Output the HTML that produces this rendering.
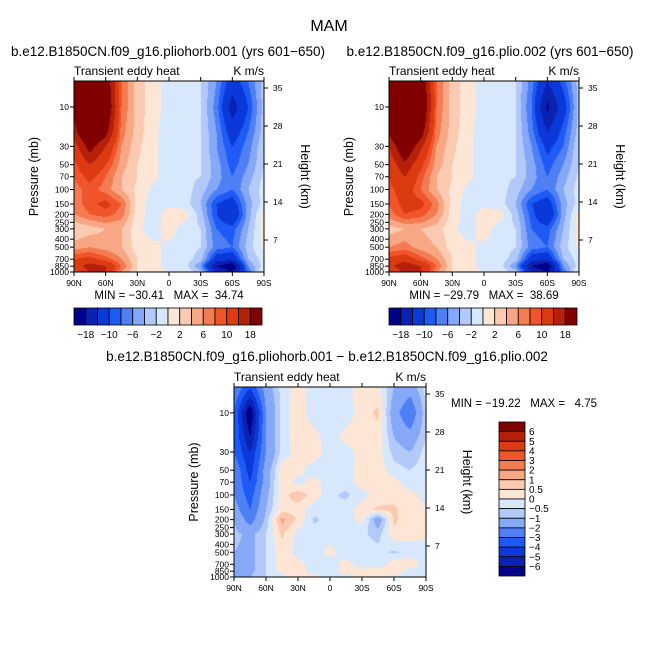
<!DOCTYPE html>
<html><head><meta charset="utf-8">
<style>
html,body{margin:0;padding:0;background:#fff;}
#wrap{position:relative;width:659px;height:660px;overflow:hidden;font-family:"Liberation Sans",sans-serif;}
canvas{position:absolute;}
svg{position:absolute;left:0;top:0;}
text{white-space:pre;}
</style></head>
<body>
<div id="wrap">
<canvas id="c1" width="190" height="191" style="left:74px;top:81px"></canvas>
<canvas id="c2" width="190" height="191" style="left:389px;top:81px"></canvas>
<canvas id="c3" width="192" height="190" style="left:234px;top:387px"></canvas>
<svg id="svg" width="659" height="660"></svg>
</div>
<script>
const lats = [90,75,60,45,30,15,0,-15,-30,-45,-60,-75,-90];
const plevs = [5,10,20,30,50,70,100,150,200,300,500,700,850,1000];
const field1 = [
[20,26,22,8,3,1,-1,-1,-2,-6,-12,-8,-3],
[20,28,24,8,3,1,-1,-1,-2,-7,-16,-10,-3],
[16,26,20,7,3,0.5,-1,-1,-2,-6,-12,-8,-3],
[12,20,14,6,2.5,0.5,-1,-1,-2,-6,-10,-7,-2],
[9,14,10,5,2,0.5,-1,-1,-2,-5,-9,-6,-2],
[8,11,8,4,2,0.5,-1,-1.5,-2,-5,-8,-5,-1.5],
[7,9,7,4,1.5,-0.5,-1,-1,-3,-6,-8,-4,-1],
[7,9,11,8,1,-1,-0.5,-1,-4,-10,-12,-5,-1],
[6,8,9,7,1,-1,1,1,-3,-10,-14,-5,1],
[2,3,4,4,0.5,-1,1,-1,-2,-8,-9,-4,1],
[5,6,5,4,1,0.5,-0.5,-1,-2,-7,-8,-3,0.5],
[10,11,9,6,2,0.5,-0.5,-1,-3,-12,-13,-4,-1],
[12,16,14,8,2,0.5,-0.5,-1,-6,-18,-22,-6,-1],
[8,14,14,6,2,0.5,0,-0.5,-3,-14,-18,-8,1]];
const field2 = [
[22,28,23,8,3,1,-1,-1,-2,-7,-14,-9,-3],
[24,30,25,8,3,1,-1,-1,-2,-8,-19,-12,-3],
[19,28,21,7,3,0.5,-1,-1,-2,-7,-14,-9,-3],
[14,23,15,6,2.5,0.5,-1,-1,-2,-6,-11,-8,-2],
[11,17,11,5,2,0.5,-1,-1,-2,-5,-9,-6,-2],
[10,14,9,4,2,0.5,-1,-1.5,-2,-5,-8,-5,-1.5],
[9,12,8,4,1.5,-0.5,-1,-1,-3,-6,-8,-4,-1],
[8,11,11,7,1,-1,-0.5,-1,-4,-10,-12,-5,-1],
[7,10,9,6,1,-1,1,1,-3,-9,-14,-5,1],
[3,4,4,3,0.5,-1,1,-1,-2,-8,-9,-4,1],
[6,7,5,4,1,0.5,-0.5,-1,-2,-7,-8,-3,0.5],
[11,12,9,6,2,0.5,-0.5,-1,-3,-12,-13,-4,-1],
[13,17,14,8,2,0.5,-0.5,-1,-6,-18,-22,-6,-1],
[9,15,14,6,2,0.5,0,-0.5,-3,-14,-18,-8,1]];
const field3 = [
[-2,-4,-1.5,-0.3,0.3,-0.3,-0.3,-0.2,0.3,0.2,-1,-1.5,-0.3],
[-3,-7,-2,-0.3,0.3,-0.3,-0.3,-0.3,0.3,0.6,-1.5,-3,-0.5],
[-3,-6,-2,-0.3,0.3,0.2,-0.3,0.2,0.3,0.3,-1,-1.5,-0.5],
[-3,-5,-2,-0.3,0.2,0.3,-0.3,-0.3,0.3,0.3,-0.7,-1,-0.3],
[-2,-4.5,-1.5,0.3,0.2,-0.3,-0.3,-0.3,0.3,0.3,-0.3,-0.5,-0.2],
[-2,-4,-1.5,0.4,-0.2,0.2,-0.3,-0.3,0.3,0.3,0.2,-0.3,-0.2],
[-2,-3.5,-1.2,0.3,0.8,0.3,-0.4,-0.6,-0.2,0.2,0.3,0.2,-0.2],
[-1.5,-3,-1,0.3,0.3,-0.3,-0.5,-0.3,0.3,0.6,0.6,0.2,0.1],
[-1,-2.5,-0.8,1.2,0.4,-0.6,-0.3,-0.3,0.2,-1.5,0.6,0.2,0.1],
[-0.8,-1.2,-0.5,0.6,-0.2,-0.3,-0.3,-0.3,-0.4,-0.7,0.4,0.2,0.1],
[-1,-1.2,-0.5,0.3,-0.2,-0.3,0.2,-0.3,-0.3,-0.3,-0.6,-0.3,-0.2],
[-1,-1.2,-0.5,0.3,0.2,-0.3,-0.3,0.2,-0.3,-0.3,0.3,0.3,-0.2],
[-1,-1.2,-0.5,0.2,0.2,-0.2,-0.2,0.2,0.2,0.3,0.4,-0.2,-0.2],
[-1,-1,-0.5,-0.2,0.2,0.2,-0.2,-0.2,0.2,0.2,-0.2,-0.2,-0.2]];
const levelsTop = [-18,-14,-10,-8,-6,-4,-2,0,2,4,6,8,10,14,18];
const levelsDiff = [-6,-5,-4,-3,-2,-1,-0.5,0,0.5,1,2,3,4,5,6];
const colors = ["#00008b","#0a22b0","#0b38d8","#1e5af5","#4f7ff5","#85a8f7","#b3c9f9","#d8e8fc","#fde6d6","#fbcab0","#f8a784","#f47c52","#f0542a","#dc3a10","#b4200a","#800000"];
const pTicks = [10,30,50,70,100,150,200,250,300,400,500,700,850,1000];
const zTicks = [35,28,21,14,7];
const latTicks = ["90N","60N","30N","0","30S","60S","90S"];
const topLabels = ["-18","-10","-6","-2","2","6","10","18"];
const diffLabels = ["6","5","4","3","2","1","0.5","0","-0.5","-1","-2","-3","-4","-5","-6"];

const PTOP = Math.pow(10, 1 - 26/82.5);
const lpT = Math.log10(PTOP), lpB = 3;
function yOfP(p, y0, h){ return y0 + h*(Math.log10(p)-lpT)/(lpB-lpT); }
function colorOf(v, lev){ let i=0; while(i<lev.length && v>=lev[i]) i++; return colors[i]; }
function hex(c){ return [parseInt(c.substr(1,2),16),parseInt(c.substr(3,2),16),parseInt(c.substr(5,2),16)]; }

function drawField(id, field, lev){
  const cv=document.getElementById(id), ctx=cv.getContext('2d');
  const W=cv.width,H=cv.height, img=ctx.createImageData(W,H);
  const lps = plevs.map(p=>Math.log10(p));
  for(let py=0;py<H;py++){
    const lp = lpT + (py+0.5)/H*(lpB-lpT);
    let r=0; while(r<lps.length-2 && lp>lps[r+1]) r++;
    let tr=(lp-lps[r])/(lps[r+1]-lps[r]); tr=Math.max(0,Math.min(1,tr));
    for(let px=0;px<W;px++){
      const lat = 90 - (px+0.5)/W*180;
      let fc=(90-lat)/15; let c=Math.min(11,Math.floor(fc)); let tc=fc-c;
      const v=(field[r][c]*(1-tc)+field[r][c+1]*tc)*(1-tr)+(field[r+1][c]*(1-tc)+field[r+1][c+1]*tc)*tr;
      const rgb=hex(colorOf(v,lev)); const k=(py*W+px)*4;
      img.data[k]=rgb[0];img.data[k+1]=rgb[1];img.data[k+2]=rgb[2];img.data[k+3]=255;
    }
  }
  ctx.putImageData(img,0,0);
}
drawField('c1',field1,levelsTop);
drawField('c2',field2,levelsTop);
drawField('c3',field3,levelsDiff);

const svg=document.getElementById('svg');
const NS="http://www.w3.org/2000/svg";
function el(tag, attrs, parent){ const e=document.createElementNS(NS,tag); for(const k in attrs) e.setAttribute(k,attrs[k]); (parent||svg).appendChild(e); return e; }
function txt(s,x,y,size,anchor,parent){ const t=el('text',{x:x,y:y,'font-size':size,'text-anchor':anchor||'start',fill:'#000'},parent); t.textContent=s; return t; }

function axes(x0,y0,w,h,name){
  const g=el('g',{});
  
  
  el('rect',{x:x0,y:y0,width:w,height:h,fill:'none',stroke:'#000','stroke-width':1},g);
  pTicks.forEach(p=>{
    const y=yOfP(p,y0,h);
    el('line',{x1:x0-4,y1:y,x2:x0,y2:y,stroke:'#000'},g);
    const t=txt(String(p),x0-5,y+3,8.5,'end',g);
    
    
  });
  zTicks.forEach(z=>{
    const y=y0+7+(35-z)/28*152;
    el('line',{x1:x0+w,y1:y,x2:x0+w+4,y2:y,stroke:'#000'},g);
    const t=txt(String(z),x0+w+9,y+3,8.5,'start',g);
    
    
  });
  latTicks.forEach((s,i)=>{
    const x=x0+i*w/6;
    el('line',{x1:x,y1:y0+h,x2:x,y2:y0+h+4,stroke:'#000'},g);
    el('line',{x1:x,y1:y0,x2:x,y2:y0-4,stroke:'#000'},g);
    const t=txt(s,x,y0+h+14,8.5,'middle',g);
    
    
  });
  const yl=txt('Pressure (mb)',0,0,12.5,'middle',g);
  yl.setAttribute('transform','translate('+(x0-36)+','+(y0+h/2)+') rotate(-90)');
  
  
  const hl=txt('Height (km)',0,0,12.5,'middle',g);
  hl.setAttribute('transform','translate('+(x0+w+37)+','+(y0+h/2)+') rotate(90)');
  
  
  const lt=txt('Transient eddy heat',x0,y0-6,12,'start',g);
  
  
  const ut=txt('K m/s',x0+w,y0-6,12,'end',g);
  
  
}
axes(74,81,190,191,'panel-pliohorb-axes');
axes(389,81,190,191,'panel-plio-axes');
axes(234,387,192,190,'panel-difference-axes');

function hbar(x0,y0,w,h,name){
  const g=el('g',{});
  
  
  const bw=w/colors.length;
  colors.forEach((c,i)=>{
    const r=el('rect',{x:x0+i*bw,y:y0,width:bw,height:h,fill:c,stroke:'#000','stroke-width':0.8},g);
    
    
  });
  topLabels.forEach((s,i)=>{
    const t=txt(s.replace('-','\u2212'),x0+(2*i+1)*bw,y0+h+13,10,'middle',g);
    
    
  });
}
hbar(74,308,188,17,'colorbar-pliohorb');
hbar(389,308,188,17,'colorbar-plio');

(function(){
  const g=el('g',{});
  
  
  const x0=499,y0=422,w=26,h=154,bh=h/colors.length;
  colors.slice().reverse().forEach((c,i)=>{
    const r=el('rect',{x:x0,y:y0+i*bh,width:w,height:bh,fill:c,stroke:'#000','stroke-width':0.8},g);
    
    
  });
  diffLabels.forEach((s,i)=>{
    const t=txt(s.replace('-','\u2212'),x0+w+4,y0+(i+1)*bh+3.5,10,'start',g);
    
    
  });
})();

const title=txt('MAM',329,31,16,'middle');


const s1=txt('b.e12.B1850CN.f09_g16.pliohorb.001 (yrs 601\u2212650)',168,56,13.5,'middle');


const s2=txt('b.e12.B1850CN.f09_g16.plio.002 (yrs 601\u2212650)',490,56,13.5,'middle');


const s3=txt('b.e12.B1850CN.f09_g16.pliohorb.001 \u2212 b.e12.B1850CN.f09_g16.plio.002',327,361,13.5,'middle');


const m1=txt('MIN = \u221230.41   MAX =  34.74',169,299,11.5,'middle');


const m2=txt('MIN = \u221229.79   MAX =  38.69',484,299,11.5,'middle');


const m3=txt('MIN = \u221219.22   MAX =   4.75',451,407,11.5,'start');


</script>
</body></html>
